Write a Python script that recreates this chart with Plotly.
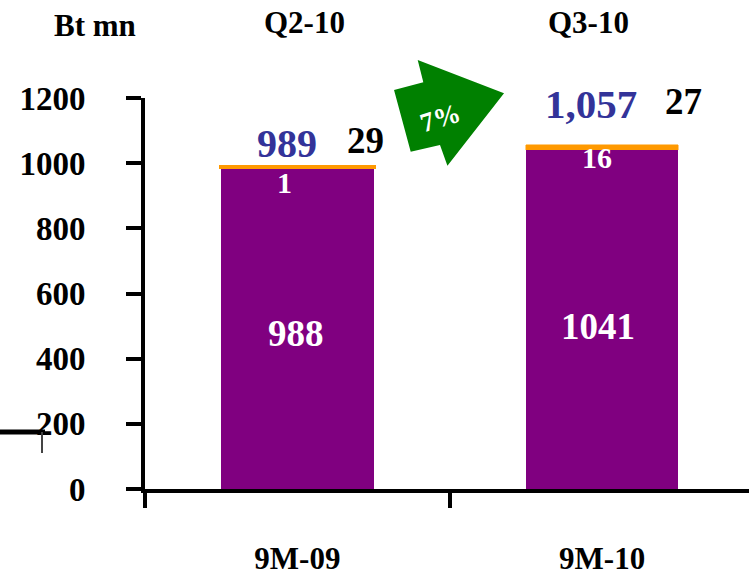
import plotly.graph_objects as go

# Revenue breakdown, Bt mn
categories = ["9M-09", "9M-10"]
quarters = ["Q2-10", "Q3-10"]
core = [988, 1041]          # purple segment
extra = [1, 16]             # orange segment on top
side_values = [29, 27]      # black figures beside each total
y_ticks = [0, 200, 400, 600, 800, 1000, 1200]

totals = [c + e for c, e in zip(core, extra)]
growth = round((totals[1] / totals[0] - 1) * 100)

W, H = 749, 578
L, R, T, B = 145, 0, 98, 89
PW, PH = W - L - R, H - T - B

SERIF = "Liberation Serif"
PURPLE = "#800080"
ORANGE = "#FF9900"
BLUE = "#333399"
GREEN = "#008000"


def px(x):
    return (x - L) / PW


def py(y):
    return (H - B - y) / PH


fig = go.Figure()
fig.add_trace(go.Bar(
    x=categories, y=core, width=0.5,
    marker=dict(color=PURPLE, line=dict(width=0)),
    hoverinfo="skip",
))
fig.add_trace(go.Bar(
    x=categories, y=extra, width=0.5,
    marker=dict(color=ORANGE, line=dict(color=ORANGE, width=[4, 0.5])),
    hoverinfo="skip",
))

ann = []


def label(text, x, y, size, color="black", angle=0):
    ann.append(dict(
        text=text, x=px(x), y=py(y), xref="paper", yref="paper",
        xanchor="center", yanchor="middle", showarrow=False, textangle=angle,
        font=dict(family=SERIF, size=size, color=color, weight="bold"),
    ))


label("Bt mn", 95, 26, 31)
label(quarters[0], 304, 23, 31)
label(quarters[1], 588, 23, 31)

# totals and side figures
label(f"{totals[0]:,}", 287, 143, 40, BLUE)
label(f"{side_values[0]}", 365, 140, 37)
label(f"{totals[1]:,}", 591, 104, 41, BLUE)
label(f"{side_values[1]}", 683, 101, 37)

# in-bar labels
label(f"{extra[0]}", 284, 182, 30, "white")
label(f"{extra[1]}", 597, 157, 30, "white")
label(f"{core[0]}", 296, 333, 37, "white")
label(f"{core[1]}", 598, 326, 37, "white")

# growth arrow
arrow_pts = [(394, 90), (423.3, 82.3), (417.7, 60), (504, 93.3),
             (447.4, 165.7), (440, 145), (410.7, 151.7)]
path = "M " + " L ".join(f"{px(x):.4f},{py(y):.4f}" for x, y in arrow_pts) + " Z"
shapes = [dict(type="path", path=path, xref="paper", yref="paper",
               fillcolor=GREEN, line=dict(width=0), layer="above")]
label(f"{growth}%", 440, 118, 27, "white", angle=-17)

# stray marks at the left edge
shapes.append(dict(type="line", xref="paper", yref="paper",
                   x0=px(0), x1=px(45), y0=py(432), y1=py(432),
                   line=dict(color="black", width=5)))
shapes.append(dict(type="line", xref="paper", yref="paper",
                   x0=px(42), x1=px(42), y0=py(432), y1=py(453),
                   line=dict(color="#444444", width=2)))

fig.update_layout(
    width=W, height=H,
    margin=dict(l=L, r=R, t=T, b=B, pad=0, autoexpand=False),
    barmode="stack", showlegend=False, bargap=0.5,
    plot_bgcolor="white", paper_bgcolor="white",
    annotations=ann, shapes=shapes,
    xaxis=dict(
        type="category", range=[-0.5, 1.482], tickson="boundaries",
        ticks="outside", ticklen=15, tickwidth=3.5, tickcolor="black",
        showline=True, linewidth=4, linecolor="black", showgrid=False,
        tickfont=dict(family=SERIF, size=31, color="black", weight="bold"),
        ticklabelstandoff=39, automargin=False,
    ),
    yaxis=dict(
        range=[0, 1200], tickvals=y_ticks,
        ticks="outside", ticklen=15, tickwidth=3.5, tickcolor="black",
        showline=True, linewidth=4, linecolor="black",
        showgrid=False, zeroline=False,
        tickfont=dict(family=SERIF, size=33, color="black", weight="bold"),
        ticklabelstandoff=34, automargin=False,
    ),
)

fig.write_html("out.html")
